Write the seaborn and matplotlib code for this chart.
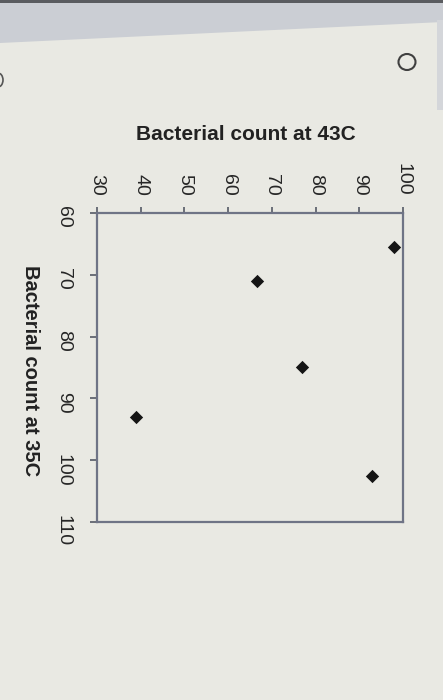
import matplotlib
matplotlib.use('Agg')
import matplotlib.pyplot as plt
import matplotlib.patches as mpatches
import pandas as pd
import seaborn as sns

# values (chart is shown turned 90 deg clockwise)
count_35c = [65.5, 71, 85, 93, 102.5]
count_43c = [98, 66.5, 77, 39, 93]
ticks_35c = [60, 70, 80, 90, 100, 110]
ticks_43c = [30, 40, 50, 60, 70, 80, 90, 100]

df = pd.DataFrame({'c35': count_35c, 'c43': count_43c})

sns.set_theme(style='white')
plt.rcParams['font.family'] = ['Liberation Sans', 'DejaVu Sans']

paper = '#e9e9e3'
frame = '#6f7486'

fig = plt.figure(figsize=(4.43, 7), dpi=100, facecolor=paper)

# photo background bits (grey band on top, the radio circle)
W, H = 443, 700
def px(x, y):
    return (x / W, 1 - y / H)
fig.patches.append(mpatches.Polygon([px(0, 0), px(443, 0), px(443, 22), px(0, 43)],
                                    closed=True, transform=fig.transFigure,
                                    facecolor='#cbced4', edgecolor='none', zorder=0))
fig.patches.append(mpatches.Polygon([px(437, 20), px(443, 20), px(443, 110), px(437, 110)],
                                    closed=True, transform=fig.transFigure,
                                    facecolor='#d4d6da', edgecolor='none', zorder=0))
fig.patches.append(mpatches.Rectangle(px(0, 3), 1, 3 / H, transform=fig.transFigure,
                                      facecolor='#5a5c60', edgecolor='none', zorder=0))
fig.patches.append(mpatches.Ellipse(px(407, 62), 17 / W, 16 / H, transform=fig.transFigure,
                                    facecolor='none', edgecolor='#404040', lw=1.5, zorder=1))
fig.patches.append(mpatches.Ellipse(px(-2, 80), 10 / W, 14 / H, transform=fig.transFigure,
                                    facecolor='none', edgecolor='#555555', lw=1.2, zorder=1))

ax = fig.add_axes([97 / W, 1 - 522 / H, 306 / W, 309 / H])
ax.set_facecolor(paper)

sns.scatterplot(data=df, x='c43', y='c35', marker='D', s=46, color='#151515',
                edgecolor='#151515', linewidth=0, ax=ax, legend=False)

ax.set_xlim(30, 100)
ax.set_ylim(110, 60)
ax.set_xticks(ticks_43c)
ax.set_yticks(ticks_35c)
ax.xaxis.tick_top()
ax.xaxis.set_label_position('top')

for side in ['top', 'left', 'right', 'bottom']:
    ax.spines[side].set_visible(True)
    ax.spines[side].set_color(frame)
    ax.spines[side].set_linewidth(1.6)

ax.tick_params(axis='x', which='both', top=True, bottom=False, direction='out',
               length=4.5, width=1.2, color='#555a66', pad=8,
               labelsize=14, labelcolor='#262626', labelrotation=-90)
ax.tick_params(axis='y', which='both', left=True, right=False, direction='out',
               length=5, width=1.2, color='#555a66', pad=13,
               labelsize=14, labelcolor='#262626', labelrotation=-90)

ax.set_xlabel('Bacterial count at 43C', fontsize=15, fontweight='bold',
              color='#222222', va='center', ha='center')
ax.xaxis.set_label_coords((246 - 97) / 306, (522 - 135) / 309)
ax.set_ylabel('Bacterial count at 35C', fontsize=14.5, fontweight='bold',
              color='#222222', rotation=-90, va='center', ha='center')
ax.yaxis.set_label_coords((30 - 97) / 306, (522 - 371) / 309)

fig.savefig('out.png', dpi=100, facecolor=paper)
